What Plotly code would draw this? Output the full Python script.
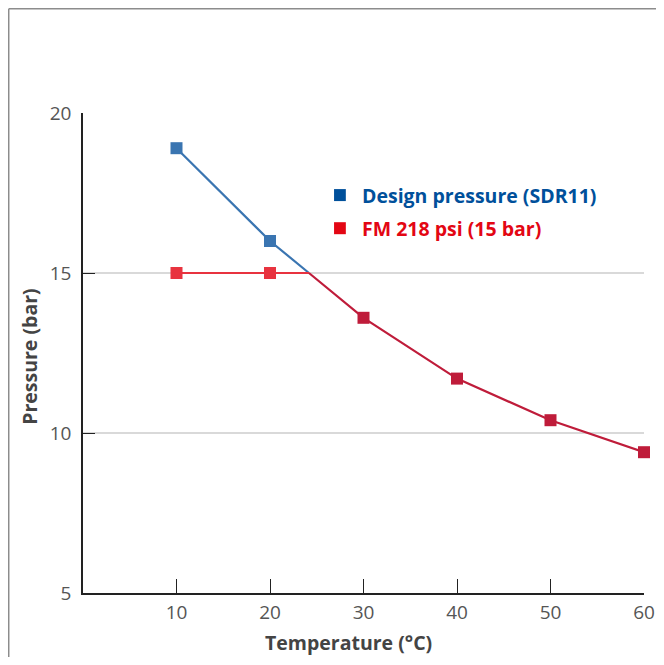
import numpy as np
import plotly.graph_objects as go

temperature = [10, 20, 30, 40, 50, 60]
design_pressure = [18.9, 16.0, 13.6, 11.7, 10.4, 9.4]
fm_limit = 15.0
x_ticks = [10, 20, 30, 40, 50, 60]
y_ticks = [5, 10, 15, 20]
legend_labels = ["Design pressure (SDR11)", "FM 218 psi (15 bar)"]

BLUE = "#3a75b1"
RED = "#e8333f"
CRIMSON = "#bf1c3a"
LEG_BLUE = "#00509b"
LEG_RED = "#e30613"

t = np.array(temperature, float)
d = np.array(design_pressure, float)
# intersection of design curve with the FM limit
i = int(np.argmax(d < fm_limit))
x_int = t[i - 1] + (d[i - 1] - fm_limit) * (t[i] - t[i - 1]) / (d[i - 1] - d[i])

fig = go.Figure()
fig.add_trace(go.Scatter(x=list(t[:i]) + [x_int], y=list(d[:i]) + [fm_limit],
                         mode="lines", line=dict(color=BLUE, width=2.2),
                         showlegend=False, hoverinfo="skip"))
fig.add_trace(go.Scatter(x=list(t[:i]), y=list(d[:i]), mode="markers",
                         marker=dict(symbol="square", size=12, color=BLUE),
                         showlegend=False, cliponaxis=False))
fig.add_trace(go.Scatter(x=list(t[:i]) + [x_int], y=[fm_limit] * i + [fm_limit],
                         mode="lines", line=dict(color=RED, width=2.2),
                         showlegend=False, hoverinfo="skip"))
fig.add_trace(go.Scatter(x=list(t[:i]), y=[fm_limit] * i, mode="markers",
                         marker=dict(symbol="square", size=12, color=RED),
                         showlegend=False, cliponaxis=False))
fig.add_trace(go.Scatter(x=[x_int] + list(t[i:]), y=[fm_limit] + list(d[i:]),
                         mode="lines", line=dict(color=CRIMSON, width=2.2),
                         showlegend=False, hoverinfo="skip", cliponaxis=False))
fig.add_trace(go.Scatter(x=list(t[i:]), y=list(d[i:]), mode="markers",
                         marker=dict(symbol="square", size=12, color=CRIMSON),
                         showlegend=False, cliponaxis=False))

tick_font = dict(family="Open Sans, sans-serif", size=19, color="#555555")
fig.update_xaxes(range=[0, 60], tickvals=x_ticks, ticks="inside", ticklen=14,
                 tickcolor="#222222", tickwidth=1.3, showline=True, linecolor="#222222",
                 linewidth=1.5, showgrid=False, zeroline=False, tickfont=tick_font,
                 ticklabelstandoff=1, automargin=False)
fig.update_yaxes(range=[5, 20], tickvals=y_ticks, ticks="inside", ticklen=12,
                 tickcolor="#222222", tickwidth=1.3, showline=True, linecolor="#222222",
                 linewidth=1.5, showgrid=True, gridcolor="#d9d9d9", gridwidth=1.5,
                 zeroline=False, tickfont=tick_font, ticklabelstandoff=6, automargin=False)

title_font = dict(family="Open Sans, sans-serif", size=19.5, color="#444444")
annotations = [
    dict(text="<b>Temperature (°C)</b>", xref="paper", yref="paper", x=0.474, y=-0.104,
         yanchor="middle", xanchor="center", showarrow=False, font=title_font),
    dict(text="<b>Pressure (bar)</b>", xref="paper", yref="paper", x=-0.0945, y=0.492,
         textangle=-90, xanchor="center", yanchor="middle", showarrow=False, font=title_font),
]
leg_y = [0.829, 0.760]
for lab, col, yy in zip(legend_labels, [LEG_BLUE, LEG_RED], leg_y):
    annotations.append(dict(text="<b>" + lab + "</b>", xref="paper", yref="paper",
                            x=0.4935, y=yy, xanchor="left", yanchor="middle", showarrow=False,
                            font=dict(family="Open Sans, sans-serif", size=19.5, color=col)))

shapes = []
for col, yy in zip([LEG_BLUE, LEG_RED], leg_y):
    shapes.append(dict(type="rect", xref="paper", yref="paper",
                       x0=0.4475, x1=0.4685, y0=yy - 0.0125, y1=yy + 0.0125,
                       fillcolor=col, line=dict(width=0)))
# frame (top and left)
shapes.append(dict(type="line", xref="paper", yref="paper", x0=-0.1324, x1=1.03,
                   y0=1.2172, y1=1.2172, line=dict(color="#8c8c8c", width=1.5)))
shapes.append(dict(type="line", xref="paper", yref="paper", x0=-0.1324, x1=-0.1324,
                   y0=-0.14, y1=1.2172, line=dict(color="#8c8c8c", width=1.5)))

fig.update_layout(width=648, height=649, margin=dict(l=75, r=12, t=105, b=64, autoexpand=False),
                  plot_bgcolor="white", paper_bgcolor="white",
                  annotations=annotations, shapes=shapes, showlegend=False)

fig.write_html("out.html")
